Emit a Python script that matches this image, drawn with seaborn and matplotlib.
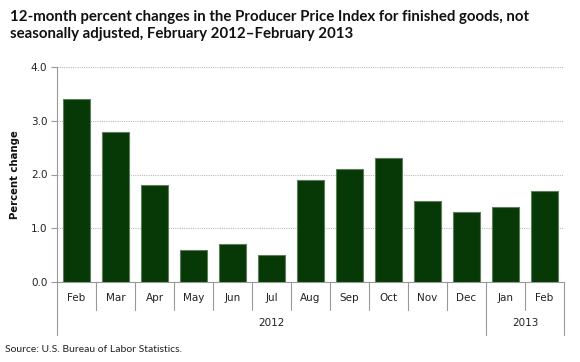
import numpy as np
import pandas as pd
import matplotlib
matplotlib.use("Agg")
import matplotlib.pyplot as plt
import matplotlib.transforms as mtransforms
import seaborn as sns

# data
periods = ["Feb 2012", "Mar 2012", "Apr 2012", "May 2012", "Jun 2012", "Jul 2012",
           "Aug 2012", "Sep 2012", "Oct 2012", "Nov 2012", "Dec 2012",
           "Jan 2013", "Feb 2013"]
months = ["Feb", "Mar", "Apr", "May", "Jun", "Jul", "Aug", "Sep", "Oct", "Nov",
          "Dec", "Jan", "Feb"]
years = ["2012", "2013"]
year_counts = [11, 2]
pct_change = [3.4, 2.8, 1.8, 0.6, 0.7, 0.5, 1.9, 2.1, 2.3, 1.5, 1.3, 1.4, 1.7]
y_ticks = [0.0, 1.0, 2.0, 3.0, 4.0]

df = pd.DataFrame({"period": periods, "value": pct_change})

sns.set_theme(style="white")
plt.rcParams["font.family"] = ["DejaVu Sans"]

W, H = 580, 362
fig = plt.figure(figsize=(W / 100, H / 100), dpi=100)
left, right, top, bottom = 57, 564, 67, 282
ax = fig.add_axes([left / W, 1 - bottom / H, (right - left) / W, (bottom - top) / H])

sns.barplot(data=df, x="period", y="value", color="#063906", width=0.68,
            edgecolor="#5d7d5d", linewidth=0.8, saturation=1, ax=ax, zorder=3)

ax.set_ylim(0, 4.0)
ax.set_xlim(-0.5, len(periods) - 0.5)
ax.set_yticks(y_ticks)
ax.set_yticklabels([f"{t:.1f}" for t in y_ticks], fontsize=7.5, color="#222222")
ax.set_xticks([])
ax.set_xlabel("")
ax.set_ylabel("Percent change", fontsize=7.3, fontweight="bold", labelpad=8,
              color="#111111")
ax.tick_params(axis="y", length=4, width=0.8, color="#999999", pad=3, left=True)

for s in ["top", "right"]:
    ax.spines[s].set_visible(False)
ax.spines["left"].set_color("#999999")
ax.spines["bottom"].set_color("#999999")
ax.spines["left"].set_linewidth(0.8)
ax.spines["bottom"].set_linewidth(0.8)

for t in y_ticks[1:]:
    ax.axhline(t, color="#bbbbbb", linestyle=(0, (1, 1)), linewidth=0.8, zorder=1)

# category axis: month row and year row with divider lines
trans = mtransforms.blended_transform_factory(ax.transData, ax.transAxes)
month_drop = -28 / (bottom - top)
year_drop = -53 / (bottom - top)
year_edges = np.cumsum([0] + year_counts)
for i in range(len(periods) + 1):
    y0 = year_drop if i in year_edges else month_drop
    ax.plot([i - 0.5, i - 0.5], [0, y0], transform=trans, color="#999999",
            linewidth=0.8, clip_on=False)
for i, m in enumerate(months):
    ax.text(i, -16 / (bottom - top), m, transform=trans, ha="center", va="center",
            fontsize=7.5, color="#222222")
for k, yr in enumerate(years):
    c = (year_edges[k] + year_edges[k + 1]) / 2 - 0.5
    ax.text(c, -41 / (bottom - top), yr, transform=trans, ha="center", va="center",
            fontsize=7.5, color="#222222")

fig.text(10 / W, 1 - 10 / H,
         "12-month percent changes in the Producer Price Index for finished goods, not\n"
         "seasonally adjusted, February 2012\u2013February 2013",
         ha="left", va="top", fontsize=10.8, fontweight="bold", family=["Lato"],
         linespacing=1.3, color="#111111")
fig.text(5 / W, 1 - 349 / H, "Source: U.S. Bureau of Labor Statistics.",
         ha="left", va="center", fontsize=7.5, family=["Lato"], color="#222222")

fig.savefig("out.png", dpi=100)
